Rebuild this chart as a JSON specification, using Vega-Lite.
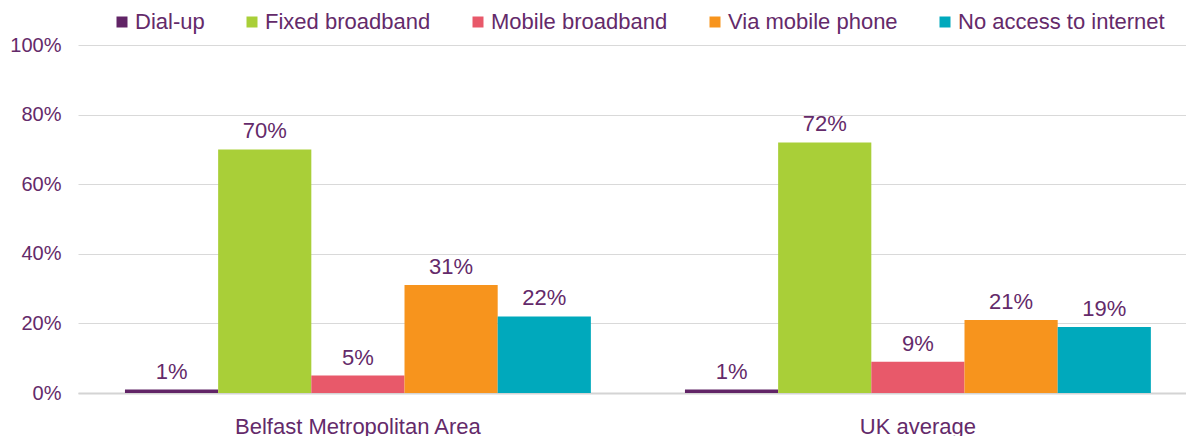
{
  "$schema": "https://vega.github.io/schema/vega-lite/v6.json",
  "autosize": {"type": "none"},
  "width": 1108,
  "height": 348,
  "padding": {"left": 78, "top": 45, "right": 0, "bottom": 43},
  "background": "white",
  "config": {
    "view": {"stroke": null},
    "font": "Liberation Sans",
    "text": {"font": "Liberation Sans"}
  },
  "data": {
    "values": [
      {"area": "Belfast Metropolitan Area", "type": "Dial-up", "value": 0.01},
      {"area": "Belfast Metropolitan Area", "type": "Fixed broadband", "value": 0.70},
      {"area": "Belfast Metropolitan Area", "type": "Mobile broadband", "value": 0.05},
      {"area": "Belfast Metropolitan Area", "type": "Via mobile phone", "value": 0.31},
      {"area": "Belfast Metropolitan Area", "type": "No access to internet", "value": 0.22},
      {"area": "UK average", "type": "Dial-up", "value": 0.01},
      {"area": "UK average", "type": "Fixed broadband", "value": 0.72},
      {"area": "UK average", "type": "Mobile broadband", "value": 0.09},
      {"area": "UK average", "type": "Via mobile phone", "value": 0.21},
      {"area": "UK average", "type": "No access to internet", "value": 0.19}
    ]
  },
  "encoding": {
    "x": {
      "field": "area",
      "type": "nominal",
      "sort": ["Belfast Metropolitan Area", "UK average"],
      "scale": {"paddingInner": 0.168, "paddingOuter": 0.0733, "align": 0.572},
      "axis": {
        "title": null,
        "labelAngle": 0,
        "ticks": false,
        "domain": true,
        "domainColor": "#D4D4D4",
        "domainWidth": 2,
        "labelColor": "#642A6A",
        "labelFontSize": 22,
        "labelPadding": 23,
        "labelLimit": 500,
        "labelFont": "Liberation Sans"
      }
    },
    "xOffset": {
      "field": "type",
      "type": "nominal",
      "sort": ["Dial-up", "Fixed broadband", "Mobile broadband", "Via mobile phone", "No access to internet"],
      "scale": {"paddingInner": 0, "paddingOuter": 0}
    },
    "y": {
      "field": "value",
      "type": "quantitative",
      "scale": {"domain": [0, 1], "nice": false},
      "axis": {
        "title": null,
        "values": [0, 0.2, 0.4, 0.6, 0.8, 1],
        "format": ".0%",
        "domain": false,
        "ticks": false,
        "grid": true,
        "gridColor": "#D9D9D9",
        "gridWidth": 1,
        "labelColor": "#642A6A",
        "labelFontSize": 20,
        "labelPadding": 17,
        "labelFont": "Liberation Sans"
      }
    }
  },
  "layer": [
    {
      "mark": {"type": "bar"},
      "encoding": {
        "color": {
          "field": "type",
          "type": "nominal",
          "sort": ["Dial-up", "Fixed broadband", "Mobile broadband", "Via mobile phone", "No access to internet"],
          "scale": {
            "domain": ["Dial-up", "Fixed broadband", "Mobile broadband", "Via mobile phone", "No access to internet"],
            "range": ["#612466", "#A9CF38", "#E8596A", "#F7941D", "#00A9BC"]
          },
          "legend": {
            "title": null,
            "orient": "none",
            "direction": "horizontal",
            "legendX": 33,
            "legendY": -34,
            "padding": 0,
            "symbolType": "square",
            "symbolSize": 121,
            "symbolStrokeWidth": 0,
            "symbolOpacity": 1,
            "labelFontSize": 22,
            "labelColor": "#642A6A",
            "labelFont": "Liberation Sans",
            "labelOffset": 2,
            "columnPadding": 36,
            "labelLimit": 400
          }
        }
      }
    },
    {
      "mark": {
        "type": "text",
        "baseline": "alphabetic",
        "dy": -11,
        "fontSize": 22,
        "color": "#642A6A",
        "font": "Liberation Sans"
      },
      "encoding": {
        "text": {"field": "value", "type": "quantitative", "format": ".0%"}
      }
    }
  ]
}
